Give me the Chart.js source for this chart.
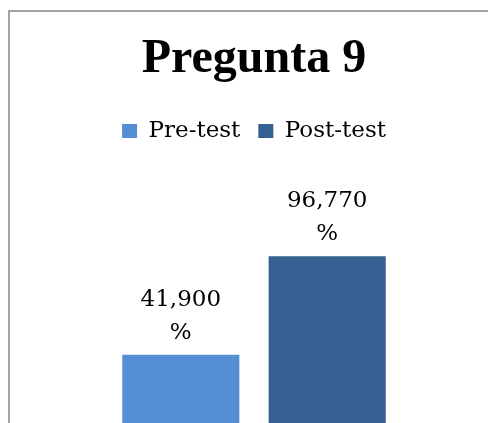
<!DOCTYPE html>
<html>
<head>
<meta charset="utf-8">
<script src="https://cdn.jsdelivr.net/npm/chart.js@4"></script>
<style>
  html, body { margin: 0; padding: 0; background: #fff; overflow: hidden; width: 488px; height: 423px; }
  #wrap { position: absolute; left: 10px; top: 0; width: 488px; height: 440px; }
  #frame { position: absolute; left: 8px; top: 10px; width: 600px; height: 600px;
           border: 2px solid #a3a3a3; pointer-events: none; }
</style>
</head>
<body>
<div id="wrap"><canvas id="chart" width="488" height="440"></canvas></div>
<div id="frame"></div>
<script>
const categories = [''];
const seriesNames = ['Pre-test', 'Post-test'];
const preTest = [41.9];
const postTest = [96.77];
const seriesColors = ['#558ED5', '#376092'];

// two-line value labels above each bar, "41,900" then "%"
const barLabels = {
    id: 'barLabels',
    afterDatasetsDraw(chart) {
        const ctx = chart.ctx;
        ctx.save();
        ctx.font = '23px "DejaVu Serif"';
        ctx.fillStyle = '#000';
        ctx.textAlign = 'center';
        ctx.textBaseline = 'alphabetic';
        chart.data.datasets.forEach((ds, i) => {
            chart.getDatasetMeta(i).data.forEach((bar, j) => {
                const txt = ds.data[j].toFixed(3).replace('.', ',');
                ctx.fillText(txt, bar.x, bar.y - 49);
                ctx.fillText('%', bar.x, bar.y - 16);
            });
        });
        ctx.restore();
    }
};

new Chart(document.getElementById('chart').getContext('2d'), {
    type: 'bar',
    data: {
        labels: categories,
        datasets: [
            { label: seriesNames[0], data: preTest, backgroundColor: seriesColors[0] },
            { label: seriesNames[1], data: postTest, backgroundColor: seriesColors[1] }
        ]
    },
    options: {
        responsive: false,
        animation: false,
        categoryPercentage: 0.6,
        barPercentage: 0.8,
        layout: { padding: { bottom: 10 } },
        scales: {
            x: { display: false },
            y: { display: false, min: 0, max: 154.5 }
        },
        plugins: {
            tooltip: { enabled: false },
            title: {
                display: true,
                text: 'Pregunta 9',
                color: '#000',
                font: { family: '"Liberation Serif"', size: 48, weight: 'bold', lineHeight: 1.2 },
                padding: { top: 31, bottom: 13 }
            },
            legend: {
                position: 'top',
                labels: {
                    color: '#000',
                    boxWidth: 15,
                    boxHeight: 14,
                    padding: 18,
                    font: { family: '"DejaVu Serif"', size: 23 }
                }
            }
        }
    },
    plugins: [barLabels]
});
</script>
</body>
</html>
